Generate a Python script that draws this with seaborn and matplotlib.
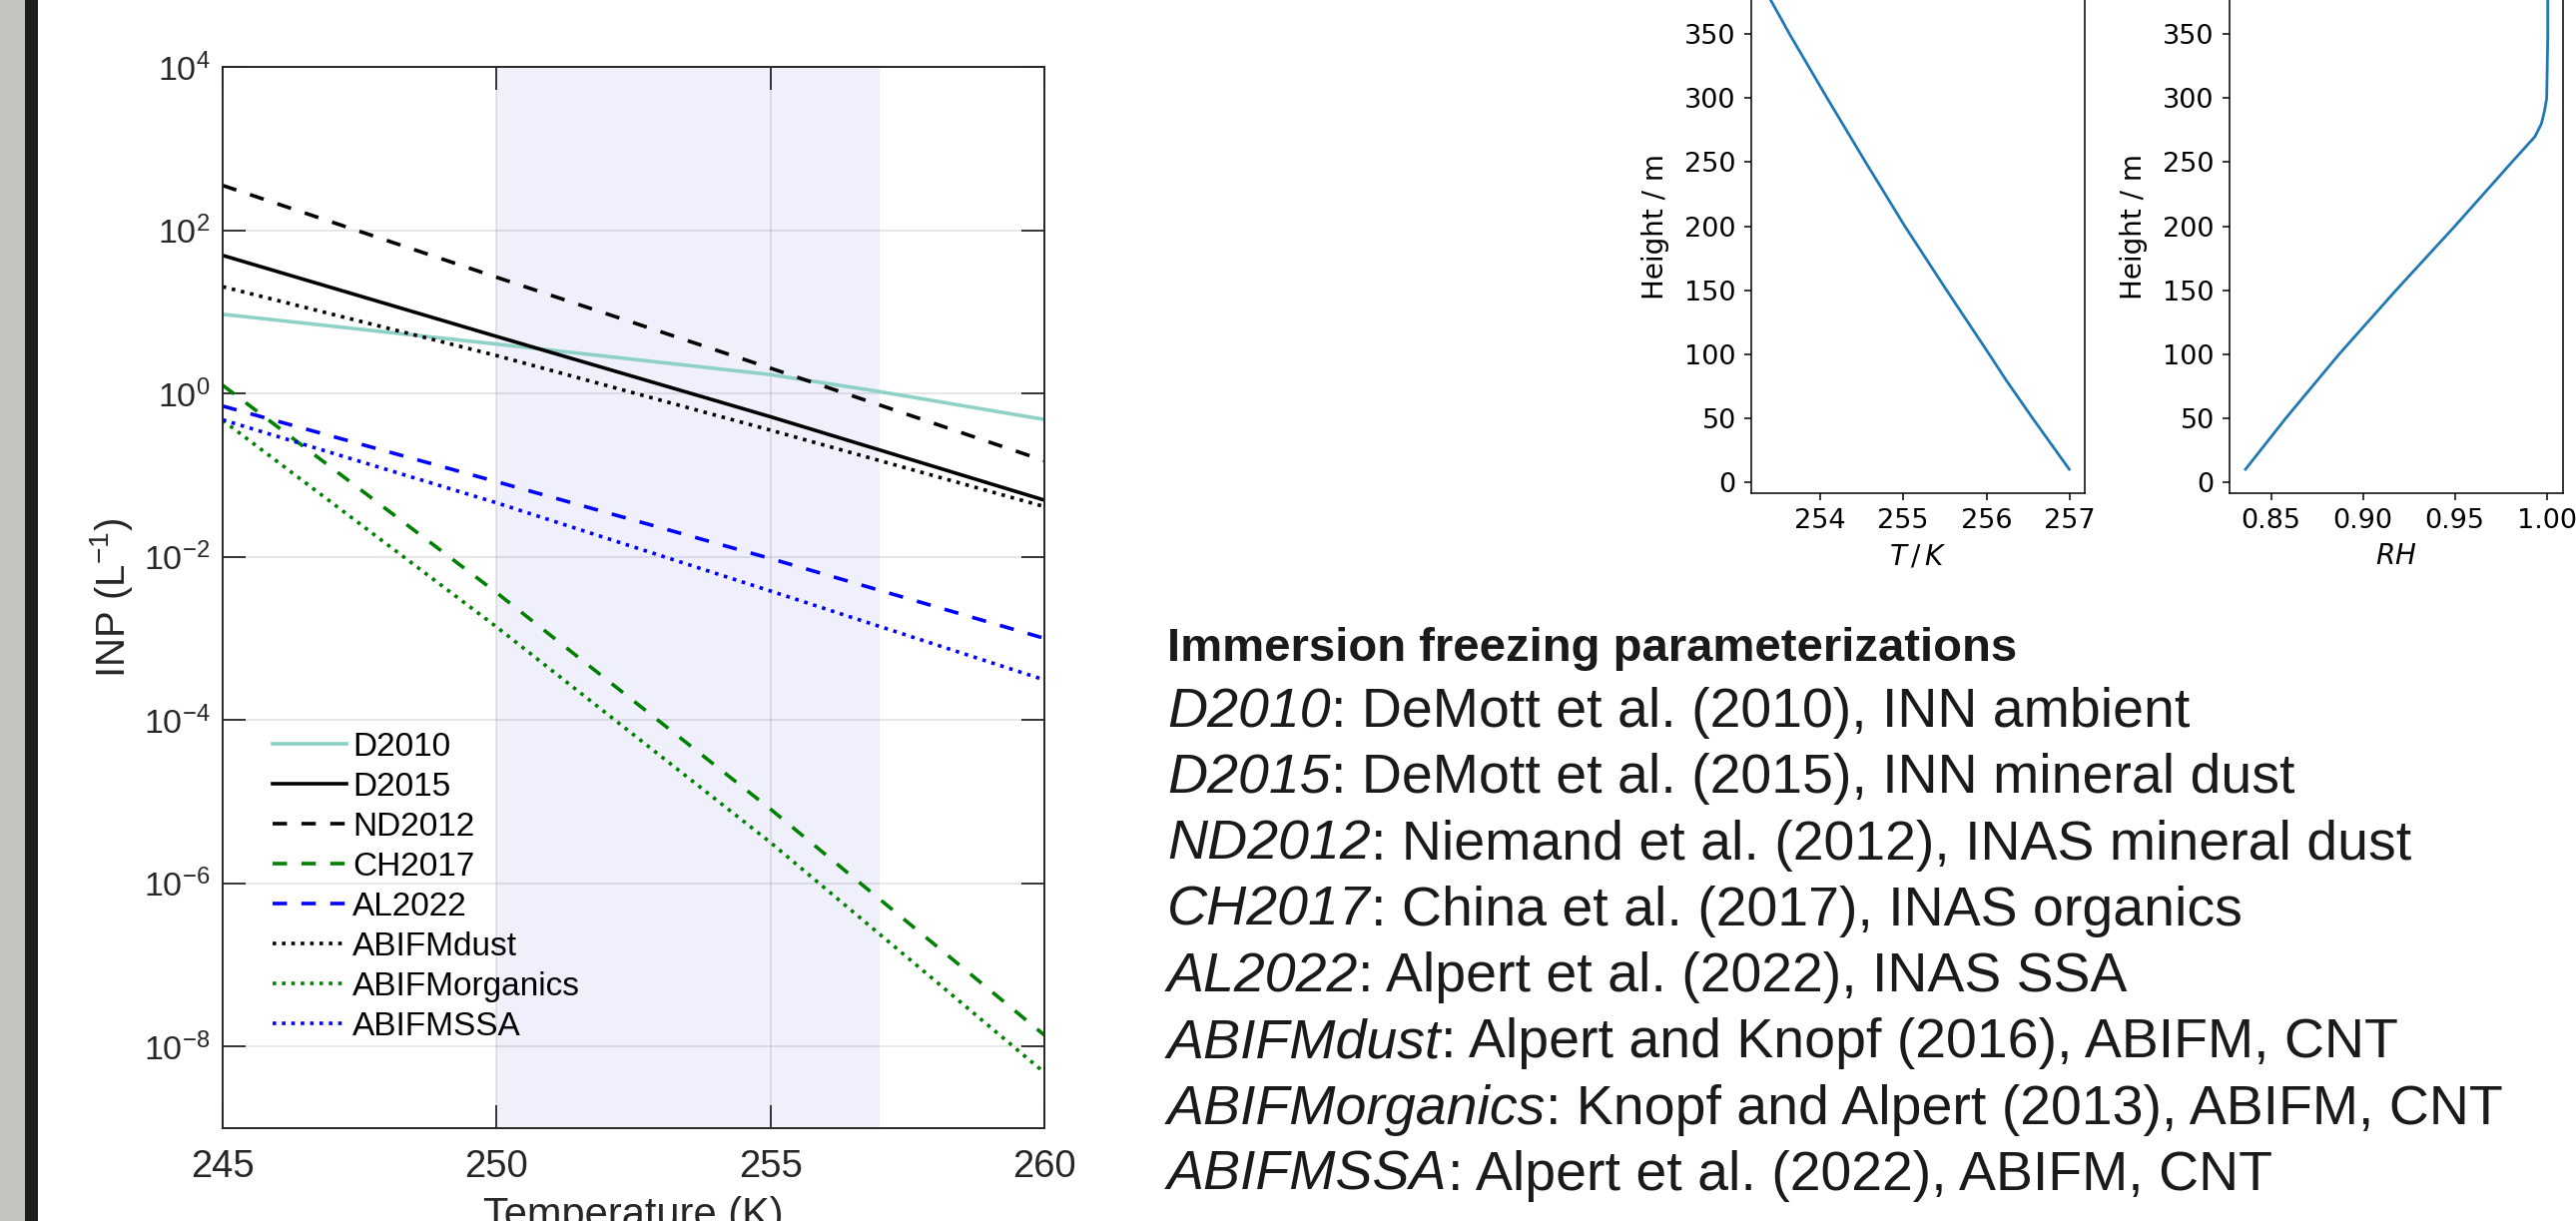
import matplotlib
matplotlib.use("Agg")
import matplotlib.pyplot as plt
from matplotlib import font_manager
from matplotlib.patches import Rectangle
from matplotlib.ticker import NullLocator
import seaborn as sns

# ---------------- data ----------------
temperature = [245, 250, 255, 260]
d2010_temperature = [245, 250, 255, 257, 260]
d2010 = [9.33, 4.02, 1.70, 1.05, 0.479]
d2015 = [49.1, 4.99, 0.518, 0.0493]
nd2012 = [353.0, 26.5, 2.04, 0.150]
ch2017 = [1.26, 3.63e-3, 8.1e-6, 1.38e-8]
al2022 = [0.70, 0.083, 0.0095, 0.0010]
abifm_dust = [20.3, 2.91, 0.355, 0.0411]
abifm_organics = [0.468, 1.38e-3, 3.16e-6, 4.8e-9]
abifm_ssa = [0.475, 0.0457, 0.0038, 0.00031]

series_labels = ["D2010", "D2015", "ND2012", "CH2017", "AL2022",
                 "ABIFMdust", "ABIFMorganics", "ABIFMSSA"]
shade_range = [250, 257]
x_ticks = [245, 250, 255, 260]
y_ticks = [1e-8, 1e-6, 1e-4, 1e-2, 1e0, 1e2, 1e4]

t_height = [10, 30, 50, 80, 100, 150, 200, 250, 300, 350, 390]
t_profile = [256.99, 256.77, 256.55, 256.23, 256.03, 255.52, 255.02, 254.55,
             254.09, 253.64, 253.30]
rh_height = [10, 50, 100, 150, 200, 250, 270, 280, 290, 300, 350, 390]
rh_profile = [0.836, 0.858, 0.887, 0.918, 0.950, 0.981, 0.9936, 0.9971,
              0.9988, 1.0000, 1.0006, 1.0006]
t_ticks = [254, 255, 256, 257]
rh_ticks = [0.85, 0.90, 0.95, 1.00]
height_ticks = [0, 50, 100, 150, 200, 250, 300, 350, 400]

text_title = "Immersion freezing parameterizations"
text_keys = ["D2010", "D2015", "ND2012", "CH2017", "AL2022",
             "ABIFMdust", "ABIFMorganics", "ABIFMSSA"]
text_desc = [": DeMott et al. (2010), INN ambient",
             ": DeMott et al. (2015), INN mineral dust",
             ": Niemand et al. (2012), INAS mineral dust",
             ": China et al. (2017), INAS organics",
             ": Alpert et al. (2022), INAS SSA",
             ": Alpert and Knopf (2016), ABIFM, CNT",
             ": Knopf and Alpert (2013), ABIFM, CNT",
             ": Alpert et al. (2022), ABIFM, CNT"]

# ---------------- style ----------------
plt.rcParams["font.family"] = ["Liberation Sans", "DejaVu Sans"]
plt.rcParams["mathtext.fontset"] = "custom"
plt.rcParams["mathtext.rm"] = "Liberation Sans"
plt.rcParams["mathtext.it"] = "Liberation Sans:italic"
plt.rcParams["mathtext.default"] = "regular"
plt.rcParams["axes.unicode_minus"] = False

W, H, DPI = 2580, 1223, 100
fig = plt.figure(figsize=(W / DPI, H / DPI), dpi=DPI)
fig.patch.set_facecolor("white")


def fx(px):
    return px / W


def fy(py):
    return 1 - py / H


# left border strips
fig.add_artist(Rectangle((0, 0), fx(25), 1, transform=fig.transFigure,
                         facecolor="#C4C3BF", edgecolor="none", zorder=-5))
fig.add_artist(Rectangle((fx(25), 0), fx(13), 1, transform=fig.transFigure,
                         facecolor="#1F1E1C", edgecolor="none", zorder=-5))

# ---------------- main INP panel ----------------
ax = fig.add_axes([fx(223), fy(1130), (1046 - 223) / W, (1130 - 67) / H])
dash = (0, (4.0, 4.0))
dot = (0, (1.0, 1.6))
series = [
    (d2010_temperature, d2010, "#8ED1C8", "-"),
    (temperature, d2015, "black", "-"),
    (temperature, nd2012, "black", dash),
    (temperature, ch2017, "#008000", dash),
    (temperature, al2022, "#0000FF", dash),
    (temperature, abifm_dust, "black", dot),
    (temperature, abifm_organics, "#008000", dot),
    (temperature, abifm_ssa, "#0000FF", dot),
]
ax.set_yscale("log")
for (xs, ys, col, ls), lab in zip(series, series_labels):
    sns.lineplot(x=xs, y=ys, ax=ax, color=col, linestyle=ls, linewidth=2.6,
                 label=lab, estimator=None, sort=False)

ax.axvspan(shade_range[0], shade_range[1], facecolor="#F0F0FD",
           edgecolor="none", zorder=0.2)
ax.set_xlim(245, 260)
ax.set_ylim(1e-9, 1e4)
ax.set_xticks(x_ticks)
ax.set_yticks(y_ticks)
ax.yaxis.set_minor_locator(NullLocator())
ax.set_axisbelow(True)
ax.grid(True, which="major", color="black", alpha=0.11, linewidth=1.2)
ax.tick_params(direction="in", length=16.5, width=1.3, top=True, right=True,
               color="#262626", labelcolor="#262626")
ax.tick_params(axis="x", labelsize=27.5, pad=15)
ax.tick_params(axis="y", labelsize=24.5, pad=9)
for sp in ax.spines.values():
    sp.set_linewidth(1.4)
    sp.set_color("#262626")
ax.set_xlabel("Temperature (K)", fontsize=30, color="#262626")
ax.set_ylabel("INP (L$^{-1}$)", fontsize=29, color="#262626")
ax.xaxis.set_label_coords(0.5, -0.064)
ax.yaxis.set_label_coords(-0.107, 0.5)
ax.legend(loc="upper left", bbox_to_anchor=(0.061, 0.3735), frameon=False,
          fontsize=24, handlelength=2.2, handletextpad=0.2, labelspacing=0.27,
          borderpad=0, borderaxespad=0)

# ---------------- profile panels ----------------
prof_kw = dict(fontsize=20, family="DejaVu Sans", math_fontfamily="dejavusans")


def style_profile(a):
    a.tick_params(direction="out", length=5, width=1.1, labelsize=19.5)
    a.tick_params(axis="x", pad=5.5)
    a.tick_params(axis="y", pad=6)
    for lab in a.get_xticklabels() + a.get_yticklabels():
        lab.set_family("DejaVu Sans")
    for sp in a.spines.values():
        sp.set_linewidth(1.1)
        sp.set_color("black")
    a.grid(False)


axT = fig.add_axes([fx(1754), fy(494), (2087.5 - 1754) / W, (494 + 40) / H])
sns.lineplot(x=t_profile, y=t_height, ax=axT, color="#1f77b4", linewidth=2.0,
             estimator=None, sort=False)
axT.set_xlim(253.18, 257.17)
axT.set_ylim(-8.7, 408)
axT.set_xticks(t_ticks)
axT.set_yticks(height_ticks)
axT.set_xlabel(r"$\mathit{T\,/\,K}$", **prof_kw)
axT.set_ylabel("Height / m", **prof_kw)
style_profile(axT)
axT.xaxis.set_label_coords(0.5, -0.092)
axT.yaxis.set_label_coords(-0.247, 0.5)

axR = fig.add_axes([fx(2233), fy(494), (2567 - 2233) / W, (494 + 40) / H])
sns.lineplot(x=rh_profile, y=rh_height, ax=axR, color="#1f77b4", linewidth=2.0,
             estimator=None, sort=False)
axR.set_xlim(0.8273, 1.0089)
axR.set_ylim(-8.7, 408)
axR.set_xticks(rh_ticks)
axR.set_xticklabels([f"{v:.2f}" for v in rh_ticks])
axR.set_yticks(height_ticks)
axR.set_xlabel(r"$\mathit{RH}$", **prof_kw)
axR.set_ylabel("Height / m", **prof_kw)
style_profile(axR)
axR.xaxis.set_label_coords(0.5, -0.092)
axR.yaxis.set_label_coords(-0.2455, 0.5)

# ---------------- text block ----------------
names = {f.name for f in font_manager.fontManager.ttflist}
if "Liberation Sans Narrow" in names:
    title_family, title_size = "Liberation Sans Narrow", 40
else:
    title_family, title_size = "Liberation Sans", 34
fig.text(fx(1169), fy(661.7), text_title, family=title_family,
         fontsize=title_size, fontweight="bold", va="baseline", ha="left",
         color="#1a1a1a")

renderer = fig.canvas.get_renderer()
for k, (key, desc) in enumerate(zip(text_keys, text_desc)):
    yb = fy(728.3 + 66.2 * k)
    t1 = fig.text(fx(1169), yb, key, fontsize=40, style="italic",
                  va="baseline", ha="left", color="#1a1a1a")
    bb = t1.get_window_extent(renderer)
    fig.text(bb.x1 / W, yb, desc, fontsize=40, va="baseline", ha="left",
             color="#1a1a1a")

fig.savefig("out.png", dpi=DPI)
